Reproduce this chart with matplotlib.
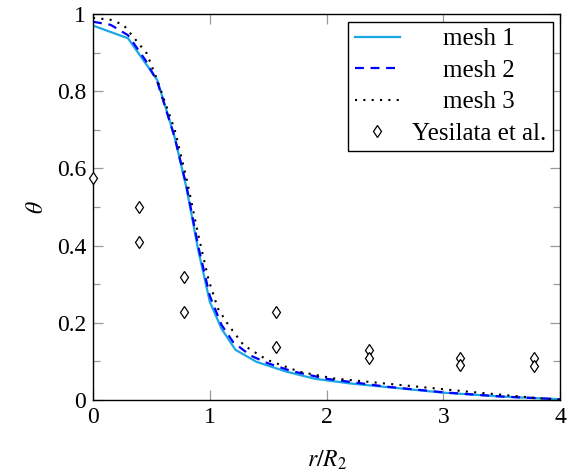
import matplotlib
matplotlib.use("Agg")
import matplotlib.pyplot as plt
from matplotlib.ticker import MultipleLocator

plt.rcParams["font.family"] = ["Liberation Serif", "DejaVu Serif"]
plt.rcParams["mathtext.fontset"] = "stix"
plt.rcParams["font.size"] = 17

# mesh 1 (cyan, solid)
m1_x = [0, 0.3, 0.55, 0.7, 0.8, 0.9, 1.0, 1.1, 1.22, 1.4, 1.65, 1.9, 2.2, 2.5, 3.0, 3.5, 4.0]
m1_y = [0.97, 0.937, 0.829, 0.68, 0.55, 0.39, 0.255, 0.185, 0.13, 0.099, 0.074, 0.055,
        0.043, 0.034, 0.019, 0.009, 0.002]

# mesh 2 (blue, dashed)
m2_x = [0, 0.15, 0.3, 0.45, 0.55, 0.7, 0.8, 0.9, 1.0, 1.1, 1.2, 1.35, 1.5, 1.7, 2.0,
        2.5, 3.0, 3.5, 4.0]
m2_y = [0.98, 0.972, 0.945, 0.88, 0.825, 0.68, 0.555, 0.40, 0.27, 0.195, 0.15, 0.115,
        0.095, 0.075, 0.055, 0.035, 0.02, 0.009, 0.002]

# mesh 3 (black, dotted)
m3_x = [0, 0.15, 0.26, 0.39, 0.46, 0.55, 0.7, 0.8, 0.9, 0.99, 1.07, 1.16, 1.29, 1.49,
        1.77, 2.06, 2.63, 3.2, 3.77, 4.0]
m3_y = [0.99, 0.985, 0.972, 0.924, 0.898, 0.829, 0.70, 0.575, 0.43, 0.311, 0.237, 0.194,
        0.142, 0.104, 0.073, 0.056, 0.039, 0.022, 0.006, 0.0]

# Yesilata et al. (experimental)
exp_x = [0, 0.39, 0.39, 0.78, 0.78, 1.57, 1.57, 2.36, 2.36, 3.14, 3.14, 3.78, 3.78]
exp_y = [0.575, 0.50, 0.41, 0.318, 0.227, 0.227, 0.138, 0.13, 0.11, 0.11, 0.091, 0.11, 0.089]

fig = plt.figure(figsize=(5.7, 4.73), dpi=100)
ax = fig.add_axes([0.1632, 0.1543, 0.9825 - 0.1632, 0.9704 - 0.1543])

ax.plot(m1_x, m1_y, color="#1aa7e4", lw=1.6, label="mesh 1")
ax.plot(m2_x, m2_y, color="#0000ff", lw=1.6, ls=(0, (4, 3)), label="mesh 2")
ax.plot(m3_x, m3_y, color="black", lw=1.5, ls=(0, (1, 3)), label="mesh 3")
ax.plot(exp_x, exp_y, ls="none", marker="d", ms=6.5, mfc="white", mec="black",
        mew=0.9, label="Yesilata et al.", clip_on=False, zorder=5)

ax.set_xlim(0, 4)
ax.set_ylim(0, 1)
ax.xaxis.set_major_locator(MultipleLocator(1))
ax.yaxis.set_major_locator(MultipleLocator(0.2))
ax.yaxis.set_minor_locator(MultipleLocator(0.1))
ax.yaxis.set_major_formatter(plt.FuncFormatter(lambda v, p: f"{v:g}"))
ax.tick_params(which="both", direction="in", top=True, right=True, color="#999999")
ax.tick_params(which="major", length=7, width=0.9, pad=5)
ax.tick_params(which="minor", length=5, width=0.9)
for s in ax.spines.values():
    s.set_linewidth(1.0)

ax.set_xlabel(r"$r/R_2$", labelpad=15)
ax.set_ylabel(r"$\theta$", labelpad=6)

leg = ax.legend(loc="upper right", fancybox=False, edgecolor="black", framealpha=1,
                borderaxespad=0.3, handlelength=1.8, handletextpad=0.5,
                labelspacing=0.36, borderpad=0.25, fontsize=18)
leg.get_frame().set_linewidth(1.0)

# centre the legend texts, as pgfplots does
fig.canvas.draw()
r = fig.canvas.get_renderer()
widths = [t.get_window_extent(r).width for t in leg.get_texts()]
wmax = max(widths)
for t, w in zip(leg.get_texts(), widths):
    t.set_x((wmax - w) / 2)

fig.savefig("out.png", dpi=100)
